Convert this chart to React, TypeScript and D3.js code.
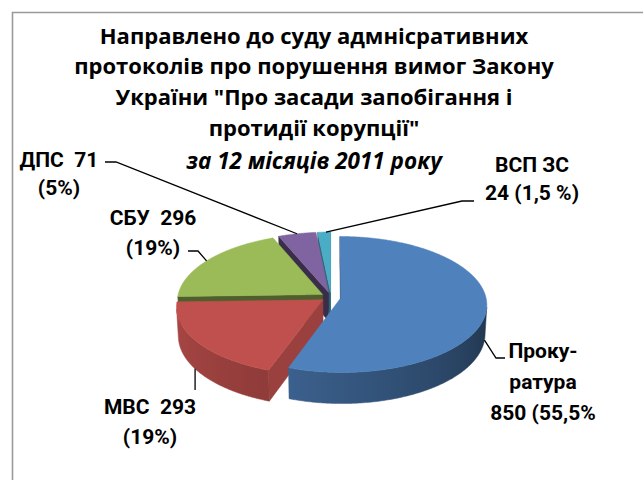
import React from 'react';
import * as d3 from 'd3';

// ---------- data ----------
const categories = ['Прокуратура', 'МВС', 'СБУ', 'ДПС', 'ВСП ЗС'];
const values = [850, 293, 296, 71, 24];
const labelLines = [
  ['Проку-', 'ратура', '850 (55,5%'],
  ['МВС  293', '(19%)'],
  ['СБУ  296', '(19%)'],
  ['ДПС  71', '(5%)'],
  ['ВСП ЗС', '24 (1,5 %)'],
];
const titleLines = [
  'Направлено до суду адмнісративних',
  'протоколів про порушення вимог Закону',
  'України "Про засади запобігання і',
  'протидії корупції"',
];
const subtitle = 'за 12 місяців 2011 року';

// ---------- style / layout ----------
const W = 643;
const H = 480;
const topColors = ['#4F81BD', '#C0504D', '#9BBB59', '#8064A2', '#4BACC6'];
const faceShade = [0.5, 0.8, 0.5, 0.45, 0.6];
const CX = 331;
const CY = 297;
const R = 145;
const DEPTH = 33;
const PHI = (27.6 * Math.PI) / 180;
const DIST = 1307;
const EXPLODE = 10;
const FONT = 'Roboto, "Noto Sans", sans-serif';
const TITLE_FONT = '"Open Sans", Roboto, sans-serif';

// label layout: center x, first line center y, line step
const labelPos = [
  { x: 543, y: 351, step: 31 },
  { x: 150, y: 407, step: 30 },
  { x: 153, y: 218, step: 30 },
  { x: 59, y: 160, step: 28 },
  { x: 532, y: 165, step: 28 },
];
// leader: elbow points (near label) + anchor on pie (angle deg, level 0 top / 1 bottom)
const leaders = [
  { pts: [[505, 358], [496, 358]], ang: 101, lvl: 1 },
  { pts: [], ang: 237, lvl: 1, vertical: 390 },
  { pts: [[188, 251], [198, 251]], ang: 302, lvl: 0 },
  { pts: [[105, 162], [116, 162]], ang: 346, lvl: 0 },
  { pts: [[474, 201], [462, 201]], ang: 358, lvl: 0 },
];

const shadeSide = d3.scaleLinear().domain([90, 200, 270]).range([0.38, 0.75, 0.9]).clamp(true);

function proj(X: number, Y: number, Z: number) {
  const u = X;
  const v = Y * Math.cos(PHI) + Z * Math.sin(PHI);
  const w = -Y * Math.sin(PHI) + Z * Math.cos(PHI);
  const s = DIST / (DIST + w);
  return [CX + u * s, CY - v * s, w];
}

function darken(c: string, k: number) {
  const r = d3.rgb(c);
  return d3.rgb(r.r * k, r.g * k, r.b * k).formatHex();
}

const camera = [0, DIST * Math.sin(PHI), -DIST * Math.cos(PHI)];

export default function App() {
  const pie = d3.pie<number>().sort(null).value((d) => d).startAngle(0).endAngle(2 * Math.PI);
  const arcs = pie(values);
  const line = d3.line();

  type Face = { d: string; fill: string; depth: number; key: string };
  const sideFaces: Face[] = [];
  const topFaces: { d: string; fill: string; key: string }[] = [];
  const grads: any[] = [];
  const anchors: number[][] = [];

  arcs.forEach((a, i) => {
    const mid = (a.startAngle + a.endAngle) / 2;
    const ox = EXPLODE * Math.sin(mid);
    const oz = EXPLODE * Math.cos(mid);
    const rim = (t: number, y: number) => proj(ox + R * Math.sin(t), y, oz + R * Math.cos(t));
    const apex = (y: number) => proj(ox, y, oz);
    const n = Math.max(2, Math.ceil(((a.endAngle - a.startAngle) * 180) / Math.PI / 0.5));
    const ts = d3.range(n + 1).map((k) => a.startAngle + ((a.endAngle - a.startAngle) * k) / n);

    // top face
    const topPts = [apex(0), ...ts.map((t) => rim(t, 0))].map((p) => [p[0], p[1]] as [number, number]);
    topFaces.push({ d: line(topPts) + 'Z', fill: topColors[i], key: 'top' + i });

    // outer side runs
    const vis = ts.map((t) => {
      const px = ox + R * Math.sin(t);
      const pz = oz + R * Math.cos(t);
      return Math.sin(t) * (camera[0] - px) + Math.cos(t) * (camera[2] - pz) > 0;
    });
    let k = 0;
    let run = 0;
    while (k < ts.length) {
      if (!vis[k]) { k++; continue; }
      let j = k;
      while (j + 1 < ts.length && vis[j + 1]) j++;
      if (j > k) {
        const seg = ts.slice(k, j + 1);
        const top = seg.map((t) => rim(t, 0));
        const bot = seg.map((t) => rim(t, -DEPTH)).reverse();
        const pts = [...top, ...bot].map((p) => [p[0], p[1]] as [number, number]);
        const depth = d3.mean([...top, ...bot], (p) => p[2]) as number;
        const id = `g${i}_${run}`;
        const xa = top[0][0];
        const xb = top[top.length - 1][0];
        const stops = seg.filter((_, q) => q % 6 === 0 || q === seg.length - 1).map((t) => {
          const p = rim(t, 0);
          return {
            off: Math.abs(xb - xa) < 1e-6 ? 0 : (p[0] - xa) / (xb - xa),
            color: darken(topColors[i], shadeSide((t * 180) / Math.PI)),
          };
        });
        grads.push({ id, x1: xa, x2: xb, stops });
        sideFaces.push({ d: line(pts) + 'Z', fill: `url(#${id})`, depth, key: 'side' + id });
        run++;
      }
      k = j + 1;
    }

    // radial faces
    const faceCol = darken(topColors[i], faceShade[i]);
    const pApex = [ox, 0, oz];
    const radial = (t: number, sign: number) => {
      const nx = sign * -Math.cos(t);
      const nz = sign * Math.sin(t);
      const dot = nx * (camera[0] - pApex[0]) + nz * (camera[2] - pApex[2]);
      if (dot <= 0) return;
      const q = [apex(0), rim(t, 0), rim(t, -DEPTH), apex(-DEPTH)];
      sideFaces.push({
        d: line(q.map((p) => [p[0], p[1]] as [number, number])) + 'Z',
        fill: faceCol,
        depth: d3.mean(q, (p) => p[2]) as number,
        key: `rad${i}_${sign}`,
      });
    };
    radial(a.startAngle, 1);
    radial(a.endAngle, -1);

    // leader anchor
    const L = leaders[i];
    const ang = (L.ang * Math.PI) / 180;
    const p = rim(ang, L.lvl ? -DEPTH : 0);
    anchors.push([p[0], p[1]]);
  });

  sideFaces.sort((p, q) => q.depth - p.depth);

  return (
    <svg width={W} height={H} style={{ position: 'absolute', left: 0, top: 0, background: '#fff' }}>
      <defs>
        {grads.map((g) => (
          <linearGradient key={g.id} id={g.id} gradientUnits="userSpaceOnUse" x1={g.x1} x2={g.x2} y1={0} y2={0}>
            {g.stops.map((s: any, q: number) => (
              <stop key={q} offset={Math.max(0, Math.min(1, s.off))} stopColor={s.color} />
            ))}
          </linearGradient>
        ))}
      </defs>
      <rect x={0} y={0} width={W} height={H} fill="#fff" />
      <path d={`M12.5,${H} V12.5 H${W}`} fill="none" stroke="#9a9a9a" strokeWidth={1.6} />
      {sideFaces.map((f) => (
        <path key={f.key} d={f.d} fill={f.fill} stroke={f.fill} strokeWidth={0.5} />
      ))}
      {topFaces.map((f) => (
        <path key={f.key} d={f.d} fill={f.fill} stroke={f.fill} strokeWidth={0.5} />
      ))}
      {leaders.map((L, i) => {
        const pts = L.vertical
          ? [[anchors[i][0], L.vertical], anchors[i]]
          : [...L.pts, anchors[i]];
        return (
          <path key={'ld' + i} d={line(pts as [number, number][]) as string} fill="none" stroke="#000" strokeWidth={1.3} />
        );
      })}
      <g fontFamily={TITLE_FONT} fontWeight="bold" fill="#000" textAnchor="middle">
        {titleLines.map((t, i) => (
          <text key={'t' + i} x={314} y={36 + i * 30.8 + 7.5} fontSize={22}>{t}</text>
        ))}
        <text x={314} y={161 + 7.5} fontSize={22.5} fontStyle="italic">{subtitle}</text>
      </g>
      <g fontFamily={FONT} fontWeight="bold" fill="#000" textAnchor="middle">
        {labelLines.map((lines, i) => (
          <g key={'lab' + i}>
            {lines.map((t, j) => (
              <text
                key={j}
                x={labelPos[i].x}
                y={labelPos[i].y + j * labelPos[i].step + 7}
                fontSize={21}
                style={{ whiteSpace: 'pre' }}
              >
                {t}
              </text>
            ))}
          </g>
        ))}
      </g>
    </svg>
  );
}
